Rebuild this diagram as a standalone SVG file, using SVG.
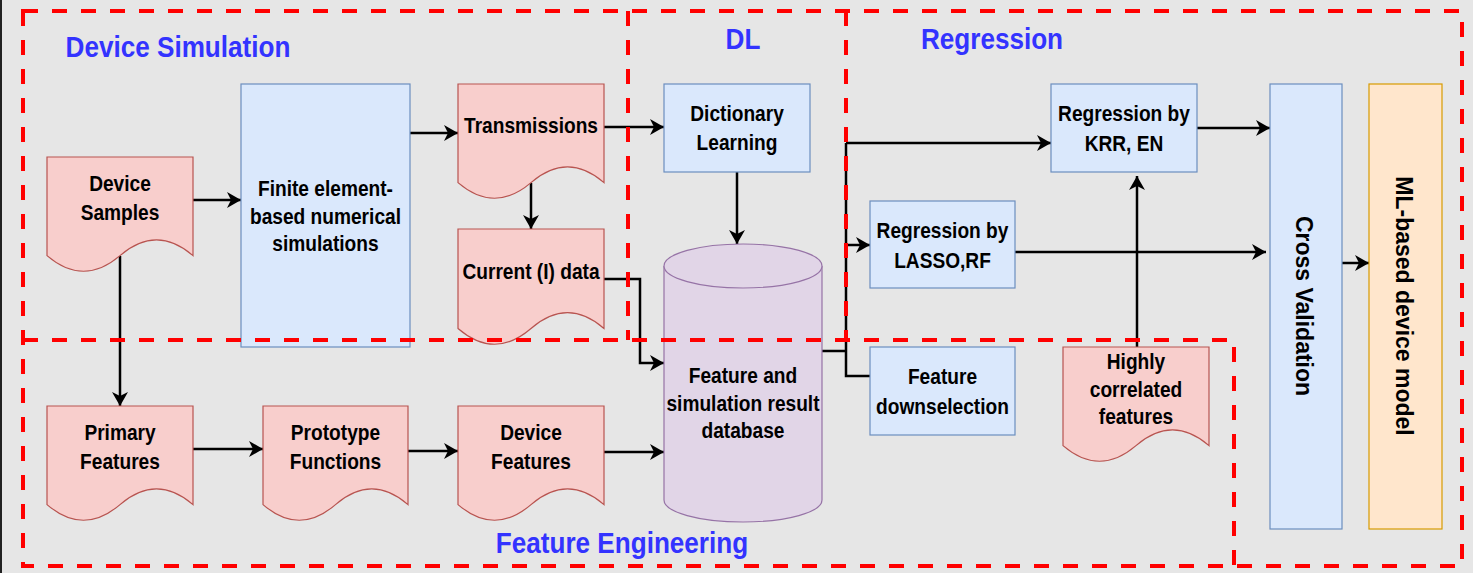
<svg xmlns="http://www.w3.org/2000/svg" width="1473" height="573" viewBox="0 0 1473 573">
<style>
.t{font-family:"Liberation Sans",Arial,sans-serif;font-weight:bold;font-size:22px;fill:#000;text-anchor:middle;transform-box:fill-box;transform-origin:center;transform:scaleX(0.87);}
.title{font-size:30px;fill:#3333ff;}
.rt{font-size:23px;transform:none;}
.doc{fill:#f8cecc;stroke:#b85450;stroke-width:1.2;}
.box{fill:#dae8fc;stroke:#6c8ebf;stroke-width:1.2;}
.org{fill:#ffe6cc;stroke:#d79b00;stroke-width:1.2;}
.cyl{fill:#e1d5e7;stroke:#9673a6;stroke-width:1.2;}
.c{fill:none;stroke:#000;stroke-width:2.5;}
.ca{marker-end:url(#arr);}
.reg{fill:none;stroke:#ff0000;stroke-width:4;stroke-dasharray:15 14;}
</style>
<defs>
<marker id="arr" markerUnits="userSpaceOnUse" markerWidth="14" markerHeight="16" refX="14" refY="8" orient="auto">
<path d="M0,0 L14,8 L0,16 L4,8 Z" fill="#000"/>
</marker>
</defs>
<rect x="0" y="0" width="1473" height="573" fill="#e6e6e6"/>
<rect x="0" y="0" width="2" height="573" fill="#222"/>

<g id="title-device-simulation"><text class="t title" x="178" y="57">Device Simulation</text></g>
<g id="title-dl"><text class="t title" x="743" y="49">DL</text></g>
<g id="title-regression"><text class="t title" x="992" y="49">Regression</text></g>
<g id="title-feature-engineering"><text class="t title" x="622" y="553">Feature Engineering</text></g>

<g id="connectors">
<path class="c ca" d="M193,200 H241"/>
<path class="c ca" d="M410,133 H458"/>
<path class="c ca" d="M604,127 H664"/>
<path class="c ca" d="M531,183 V229"/>
<path class="c ca" d="M737,172 V244"/>
<path class="c ca" d="M604,279 H640 V363 H664"/>
<path class="c ca" d="M120,256 V406"/>
<path class="c ca" d="M193,449 H263"/>
<path class="c ca" d="M408,451 H458"/>
<path class="c ca" d="M604,452 H664"/>
<path class="c" d="M822,351 H846"/>
<path class="c" d="M846,143 V376 H870"/>
<path class="c ca" d="M846,143 H1051"/>
<path class="c ca" d="M846,245 H870"/>
<path class="c ca" d="M1015,252 H1266"/>
<path class="c ca" d="M1197,128 H1270"/>
<path class="c ca" d="M1137,347 V176"/>
<path class="c ca" d="M1342,263 H1369"/>
</g>

<g id="device-samples">
<path class="doc" d="M47,157 H193 V255.6 Q156.5,224.3 120,255.6 Q83.5,286.9 47,255.6 Z"/>
<text class="t" x="120" y="191">Device</text>
<text class="t" x="120" y="220">Samples</text>
</g>
<g id="finite-element">
<rect class="box" x="241" y="84" width="169" height="263"/>
<text class="t" x="325.5" y="196">Finite element-</text>
<text class="t" x="325.5" y="224">based numerical</text>
<text class="t" x="325.5" y="251">simulations</text>
</g>
<g id="transmissions">
<path class="doc" d="M458,84 H604 V182.6 Q567.5,151.3 531,182.6 Q494.5,213.9 458,182.6 Z"/>
<text class="t" x="531" y="133">Transmissions</text>
</g>
<g id="current-data">
<path class="doc" d="M458,229 H604 V328.5 Q567.5,296.9 531,328.5 Q494.5,360 458,328.5 Z"/>
<text class="t" x="531" y="279">Current (I) data</text>
</g>
<g id="dictionary-learning">
<rect class="box" x="664" y="84" width="146" height="88"/>
<text class="t" x="737" y="121">Dictionary</text>
<text class="t" x="737" y="150">Learning</text>
</g>
<g id="database">
<path class="cyl" d="M664,266 A79,22 0 0 1 822,266 V500 A79,22 0 0 1 664,500 Z"/>
<path class="cyl" fill="none" d="M664,266 A79,22 0 0 0 822,266"/>
<text class="t" x="743" y="383">Feature and</text>
<text class="t" x="743" y="411">simulation result</text>
<text class="t" x="743" y="438">database</text>
</g>
<g id="primary-features">
<path class="doc" d="M47,406 H193 V504.6 Q156.5,473.3 120,504.6 Q83.5,535.9 47,504.6 Z"/>
<text class="t" x="120" y="440">Primary</text>
<text class="t" x="120" y="469">Features</text>
</g>
<g id="prototype-functions">
<path class="doc" d="M263,406 H408 V504.6 Q371.75,473.3 335.5,504.6 Q299.25,535.9 263,504.6 Z"/>
<text class="t" x="335.5" y="440">Prototype</text>
<text class="t" x="335.5" y="469">Functions</text>
</g>
<g id="device-features">
<path class="doc" d="M458,406 H604 V504.6 Q567.5,473.3 531,504.6 Q494.5,535.9 458,504.6 Z"/>
<text class="t" x="531" y="440">Device</text>
<text class="t" x="531" y="469">Features</text>
</g>
<g id="regression-krr">
<rect class="box" x="1051" y="84" width="146" height="88"/>
<text class="t" x="1124" y="121">Regression by</text>
<text class="t" x="1124" y="151">KRR, EN</text>
</g>
<g id="regression-lasso">
<rect class="box" x="870" y="201" width="145" height="87"/>
<text class="t" x="942.5" y="238">Regression by</text>
<text class="t" x="942.5" y="268">LASSO,RF</text>
</g>
<g id="feature-downselection">
<rect class="box" x="870" y="347" width="145" height="88"/>
<text class="t" x="942.5" y="384">Feature</text>
<text class="t" x="942.5" y="414">downselection</text>
</g>
<g id="highly-correlated">
<path class="doc" d="M1063,347 H1209 V445.6 Q1172.5,414.3 1136,445.6 Q1099.5,476.9 1063,445.6 Z"/>
<text class="t" x="1136" y="369">Highly</text>
<text class="t" x="1136" y="397">correlated</text>
<text class="t" x="1136" y="424">features</text>
</g>
<g id="cross-validation">
<rect class="box" x="1270" y="84" width="72" height="445"/>
<g transform="translate(1304,306) rotate(90)"><text class="t rt" x="0" y="8">Cross Validation</text></g>
</g>
<g id="ml-model">
<rect class="org" x="1369" y="84" width="73" height="445"/>
<g transform="translate(1404,306) rotate(90)"><text class="t rt" x="0" y="8">ML-based device model</text></g>
</g>

<g id="regions">
<path class="reg" d="M23,11 H1462 V566 H23 Z"/>
<path class="reg" d="M628,11 V340"/>
<path class="reg" d="M846,11 V340"/>
<path class="reg" d="M23,340 H1234 V566"/>
</g>
</svg>
